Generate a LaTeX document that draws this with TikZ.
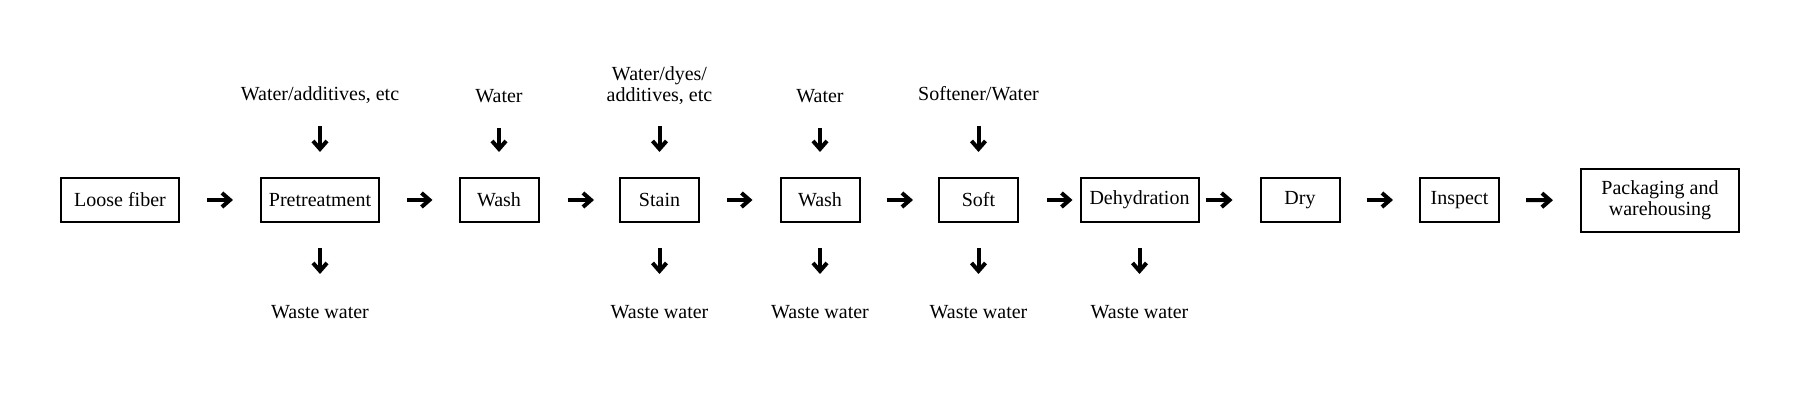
\documentclass[tikz,border=0pt]{standalone}
\usepackage{fontspec}
\setmainfont{Liberation Serif}
\usetikzlibrary{arrows.meta, positioning}

\tikzset{
  stage/.style={draw, line width=1pt, inner sep=0pt, minimum height=22pt, font=\fontsize{10}{10.5}\selectfont, align=center},
  widestage/.style={stage, minimum width=59pt},
  smallstage/.style={stage, minimum width=39.5pt},
  feedlabel/.style={inner sep=0pt, anchor=south, align=center, font=\fontsize{10}{10.5}\selectfont},
  wastelabel/.style={inner sep=0pt, anchor=north, text height=7pt, font=\fontsize{10}{10.5}\selectfont},
  flow/.style={line width=2pt, -{Straight Barb[length=4pt,width=7pt]}},
  feed/.style={flow, shorten <=10.5pt, shorten >=12.5pt},
  drain/.style={flow, shorten <=12.5pt, shorten >=15pt}
}

\begin{document}
\begin{tikzpicture}[x=0.5pt,y=0.5pt,yscale=-1,xscale=1]
\useasboundingbox (0,0) rectangle (1800,400);

% Process Boxes
\draw (120,200) node (fiber) [widestage] {Loose fiber};
\draw (320,200) node (pretreat) [widestage] {Pretreatment};
\draw (499,200) node (washa) [smallstage] {Wash};
\draw (659.5,200) node (stain) [smallstage] {Stain};
\draw (820,200) node (washb) [smallstage] {Wash};
\draw (978.5,200) node (soft) [smallstage] {Soft};
\draw (1139.5,200) node (dehyd) [widestage] {Dehydration};
\draw (1300,200) node (dry) [smallstage] {Dry};
\draw (1459.5,200) node (inspect) [smallstage] {Inspect};
\draw (1660,200.5) node (pack) [stage, minimum width=79pt, minimum height=31.5pt] {Packaging and\\warehousing};

% Text Node
\draw (320,105) node (inpre) [feedlabel, text depth=2pt] {Water/additives, etc};
% Text Node
\draw (499,107) node (inwasha) [feedlabel, text depth=2pt] {Water};
% Text Node
\draw (659.5,105) node (instain) [feedlabel] {Water/dyes/\\additives, etc};
% Text Node
\draw (820,107) node (inwashb) [feedlabel, text depth=2pt] {Water};
% Text Node
\draw (978.5,105) node (insoft) [feedlabel, text depth=2pt] {Softener/Water};

% Text Node
\draw (320,304) node (outpre) [wastelabel] {Waste water};
% Text Node
\draw (659.5,304) node (outstain) [wastelabel] {Waste water};
% Text Node
\draw (820,304) node (outwashb) [wastelabel] {Waste water};
% Text Node
\draw (978.5,304) node (outsoft) [wastelabel] {Waste water};
% Text Node
\draw (1139.5,304) node (outdehyd) [wastelabel] {Waste water};

%Straight Lines
\draw [flow, shorten <=13.5pt, shorten >=13.5pt] (fiber) -- (pretreat);
\draw [flow, shorten <=13.5pt, shorten >=13pt] (pretreat) -- (washa);
\draw [flow, shorten <=14pt, shorten >=12.5pt] (washa) -- (stain);
\draw [flow, shorten <=13.5pt, shorten >=13.5pt] (stain) -- (washb);
\draw [flow, shorten <=13pt, shorten >=12.5pt] (washb) -- (soft);
\draw [flow, shorten <=14pt, shorten >=3.5pt] (soft) -- (dehyd);
\draw [flow, shorten <=3pt, shorten >=13.5pt] (dehyd) -- (dry);
\draw [flow, shorten <=13pt, shorten >=13pt] (dry) -- (inspect);
\draw [flow, shorten <=13pt, shorten >=13.5pt] (inspect) -- (pack);

%Straight Lines
\draw [feed] (inpre) -- (pretreat);
\draw [feed] (inwasha) -- (washa);
\draw [feed] (instain) -- (stain);
\draw [feed] (inwashb) -- (washb);
\draw [feed] (insoft) -- (soft);

%Straight Lines
\draw [drain] (pretreat) -- (outpre);
\draw [drain] (stain) -- (outstain);
\draw [drain] (washb) -- (outwashb);
\draw [drain] (soft) -- (outsoft);
\draw [drain] (dehyd) -- (outdehyd);

\end{tikzpicture}
\end{document}
